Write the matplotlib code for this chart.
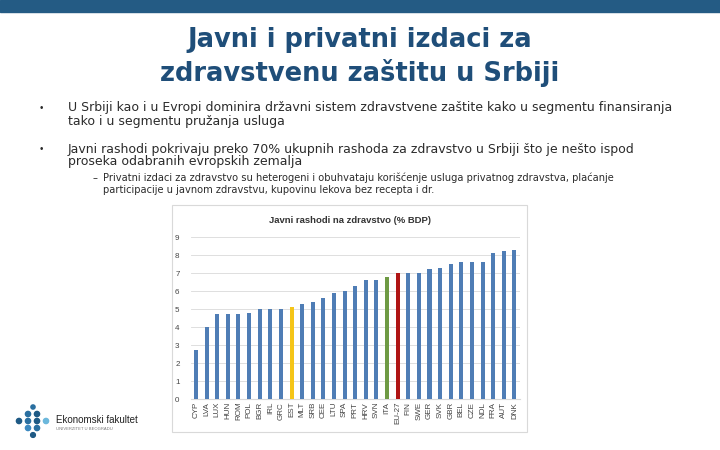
import matplotlib
matplotlib.use('Agg')
from matplotlib import pyplot as plt
from matplotlib.patches import Rectangle, Ellipse

plt.rcParams['font.family'] = ['Liberation Sans', 'DejaVu Sans']

# data
countries = ['CYP', 'LVA', 'LUX', 'HUN', 'ROM', 'POL', 'BGR', 'IRL', 'GRC', 'EST',
             'MLT', 'SRB', 'CEE', 'LTU', 'SPA', 'PRT', 'HRV', 'SVN', 'ITA', 'EU-27',
             'FIN', 'SWE', 'GER', 'SVK', 'GBR', 'BEL', 'CZE', 'NDL', 'FRA', 'AUT', 'DNK']
values = [2.7, 4.0, 4.7, 4.7, 4.7, 4.8, 5.0, 5.0, 5.0, 5.1,
          5.3, 5.4, 5.6, 5.9, 6.0, 6.3, 6.6, 6.6, 6.8, 7.0,
          7.0, 7.0, 7.2, 7.3, 7.5, 7.6, 7.6, 7.6, 8.1, 8.2, 8.3]
highlight = {'EST': '#F5C518', 'ITA': '#6E9A44', 'EU-27': '#B01515'}
yticks = list(range(0, 10))

W, H = 720, 450
def fx(x):
    return x / W
def fy(y):
    return 1 - y / H

fig = plt.figure(figsize=(7.2, 4.5), dpi=100)

# top band
fig.patches.append(Rectangle((0, fy(12)), 1, 12 / H, transform=fig.transFigure,
                             color='#245B84', zorder=-2))

# slide title
for y, line in [(40, 'Javni i privatni izdaci za'), (73, 'zdravstvenu zaštitu u Srbiji')]:
    fig.text(0.5, fy(y), line, ha='center', va='center', fontsize=18.5,
             family='DejaVu Sans', fontweight='semibold', color='#1F4E79')

# bullets
txt = '#2b2b2b'
body = dict(fontsize=9, va='center', color=txt, family='DejaVu Sans')
fig.text(fx(40), fy(108), '•', fontsize=7, va='center', color=txt)
fig.text(fx(68), fy(108),
         'U Srbiji kao i u Evropi dominira državni sistem zdravstvene zaštite kako u segmentu finansiranja',
         **body)
fig.text(fx(68), fy(122), 'tako i u segmentu pružanja usluga', **body)
fig.text(fx(40), fy(149), '•', fontsize=7, va='center', color=txt)
fig.text(fx(68), fy(149),
         'Javni rashodi pokrivaju preko 70% ukupnih rashoda za zdravstvo u Srbiji što je nešto ispod',
         **body)
fig.text(fx(68), fy(162), 'proseka odabranih evropskih zemalja', **body)
sub = dict(fontsize=7.1, va='center', color=txt, family='DejaVu Sans')
fig.text(fx(93), fy(178), '–', **sub)
fig.text(fx(103), fy(178),
         'Privatni izdaci za zdravstvo su heterogeni i obuhvataju korišćenje usluga privatnog zdravstva, plaćanje',
         **sub)
fig.text(fx(103), fy(190),
         'participacije u javnom zdravstvu, kupovinu lekova bez recepta i dr.', **sub)

# chart frame
fig.patches.append(Rectangle((fx(172), fy(432)), 355 / W, 227 / H,
                             transform=fig.transFigure, facecolor='white',
                             edgecolor='#D9D9D9', lw=0.8, zorder=-1))
fig.text(fx(350), fy(220), 'Javni rashodi na zdravstvo (% BDP)',
         ha='center', va='center', fontsize=6.8, fontweight='bold', color='#333333')

ax = fig.add_axes([fx(190.7), fy(399), 329 / W, 162 / H])
ax.set_facecolor('none')
colors = [highlight.get(c, '#4F7DB5') for c in countries]
ax.bar(range(len(countries)), values, width=0.38, color=colors, zorder=3)
ax.set_xlim(-0.5, len(countries) - 0.5)
ax.set_ylim(0, 9)
ax.set_yticks(yticks)
ax.set_xticks(range(len(countries)))
ax.set_xticklabels(countries, rotation=90, fontsize=5.8, color='#444444')
ax.tick_params(axis='y', labelsize=5.8, labelcolor='#444444', length=0, pad=8)
ax.tick_params(axis='x', length=0, pad=2)
ax.grid(axis='y', color='#D9D9D9', lw=0.6, zorder=0)
for s in ['top', 'right', 'left']:
    ax.spines[s].set_visible(False)
ax.spines['bottom'].set_color('#D9D9D9')

# logo
dots = [(33, 407, '#2A6FA0', 2.1),
        (28, 414, '#2A6FA0', 2.6), (37, 414, '#1F5A85', 2.6),
        (19, 421, '#1F5A85', 2.6), (28, 421, '#2A6FA0', 2.6),
        (37, 421, '#1F5A85', 2.6), (46, 421, '#6CB8DC', 2.6),
        (28, 428, '#3C89C0', 2.6), (37, 428, '#2A6FA0', 2.6),
        (33, 435, '#1F5A85', 2.4)]
for x, y, c, r in dots:
    fig.patches.append(Ellipse((fx(x), fy(y)), 2 * r / W, 2 * r / H,
                               transform=fig.transFigure, color=c))
fig.text(fx(56), fy(420), 'Ekonomski fakultet', fontsize=7, va='center', color='#222222')
fig.text(fx(56), fy(429), 'UNIVERZITET U BEOGRADU', fontsize=3, va='center', color='#777777')

fig.savefig('out.png', dpi=100)
